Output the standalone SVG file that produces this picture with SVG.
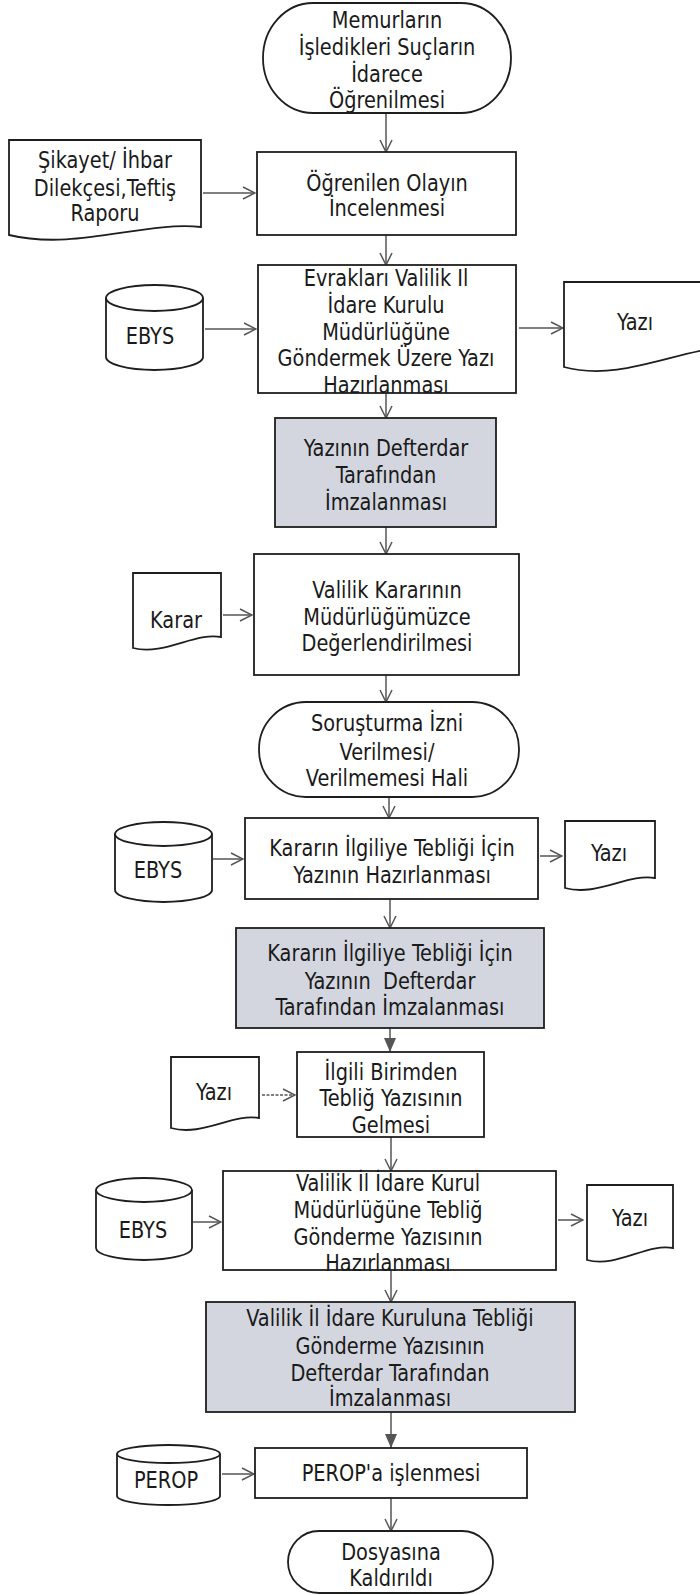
<svg xmlns="http://www.w3.org/2000/svg" width="700" height="1595" viewBox="0 0 700 1595">
<defs>
<style>
.bg{fill:#ffffff}
.box{fill:#ffffff;stroke:#1e1e1e;stroke-width:1.8}
.gray{fill:#d3d6de;stroke:#1e1e1e;stroke-width:1.8}
.t{font-family:"DejaVu Sans Condensed","DejaVu Sans",sans-serif;font-stretch:condensed;font-size:23px;fill:#1a1a1a;text-anchor:middle}
.c{fill:none;stroke:#555555;stroke-width:1.5}
.dot{stroke-dasharray:3 1.5}
</style>
<marker id="open" viewBox="0 0 14 14" refX="13" refY="7" markerWidth="14" markerHeight="14" markerUnits="userSpaceOnUse" orient="auto">
<path d="M1,1 L13,7 L1,13" fill="none" stroke="#555555" stroke-width="1.5"/>
</marker>
<marker id="filled" viewBox="0 0 14 14" refX="14" refY="7" markerWidth="14" markerHeight="14" markerUnits="userSpaceOnUse" orient="auto">
<path d="M0,1 L14,7 L0,13 Z" fill="#555555"/>
</marker>
</defs>
<rect class="bg" x="0" y="0" width="700" height="1595"/>

<g id="connectors">
<line class="c" x1="386" y1="113" x2="386" y2="152" marker-end="url(#open)"/>
<line class="c" x1="203" y1="193" x2="255" y2="193" marker-end="url(#open)"/>
<line class="c" x1="386" y1="235" x2="386" y2="265" marker-end="url(#open)"/>
<line class="c" x1="205" y1="329" x2="256" y2="329" marker-end="url(#open)"/>
<line class="c" x1="519" y1="328" x2="563" y2="328" marker-end="url(#open)"/>
<line class="c" x1="386" y1="393" x2="386" y2="418" marker-end="url(#open)"/>
<line class="c" x1="386" y1="527" x2="386" y2="554" marker-end="url(#open)"/>
<line class="c" x1="223" y1="615" x2="252" y2="615" marker-end="url(#open)"/>
<line class="c" x1="386" y1="675" x2="386" y2="702" marker-end="url(#open)"/>
<line class="c" x1="389" y1="797" x2="389" y2="818" marker-end="url(#open)"/>
<line class="c" x1="213" y1="859" x2="243" y2="859" marker-end="url(#open)"/>
<line class="c" x1="540" y1="856" x2="562" y2="856" marker-end="url(#open)"/>
<line class="c" x1="390" y1="899" x2="390" y2="928" marker-end="url(#open)"/>
<line class="c" x1="390" y1="1028" x2="390" y2="1052" marker-end="url(#filled)"/>
<line class="c dot" x1="262" y1="1095" x2="295" y2="1095" marker-end="url(#open)"/>
<line class="c" x1="391" y1="1137" x2="391" y2="1171" marker-end="url(#open)"/>
<line class="c" x1="193" y1="1222" x2="221" y2="1222" marker-end="url(#open)"/>
<line class="c" x1="558" y1="1220" x2="583" y2="1220" marker-end="url(#open)"/>
<line class="c" x1="391" y1="1270" x2="391" y2="1302" marker-end="url(#open)"/>
<line class="c" x1="391" y1="1412" x2="391" y2="1448" marker-end="url(#filled)"/>
<line class="c" x1="222" y1="1474" x2="254" y2="1474" marker-end="url(#open)"/>
<line class="c" x1="391" y1="1498" x2="391" y2="1531" marker-end="url(#open)"/>
</g>

<g id="n1">
<rect class="box" x="263" y="3" width="248" height="110" rx="50" ry="55"/>
<g transform="translate(387,0) scale(0.935,1)">
<text class="t" x="0" y="28.5">Memurların</text>
<text class="t" x="0" y="55.5">İşledikleri Suçların</text>
<text class="t" x="0" y="82.5">İdarece</text>
<text class="t" x="0" y="108.5">Öğrenilmesi</text>
</g>
</g>

<g id="n2">
<path class="box" d="M9,140 H201 V227 C143,221 76,251 9,235 Z"/>
<g transform="translate(105,0) scale(0.935,1)">
<text class="t" x="0" y="168.5">Şikayet/ İhbar</text>
<text class="t" x="0" y="196.5">Dilekçesi,Teftiş</text>
<text class="t" x="0" y="221.5">Raporu</text>
</g>
</g>

<g id="n3">
<rect class="box" x="257" y="152" width="259" height="83"/>
<g transform="translate(387,0) scale(0.935,1)">
<text class="t" x="0" y="191.5">Öğrenilen Olayın</text>
<text class="t" x="0" y="216.5">İncelenmesi</text>
</g>
</g>

<g id="n4">
<path class="box" d="M106,298 V357 A48.5,13 0 0 0 203,357 V298"/>
<ellipse class="box" cx="154.5" cy="298" rx="48.5" ry="13"/>
<g transform="translate(150,0) scale(0.935,1)">
<text class="t" x="0" y="344.5">EBYS</text>
</g>
</g>

<g id="n5">
<rect class="box" x="258" y="265" width="258" height="128"/>
<g transform="translate(386,0) scale(0.935,1)">
<text class="t" x="0" y="286.5">Evrakları Valilik Il</text>
<text class="t" x="0" y="313.5">İdare Kurulu</text>
<text class="t" x="0" y="340.5">Müdürlüğüne</text>
<text class="t" x="0" y="366.5">Göndermek Üzere Yazı</text>
<text class="t" x="0" y="393.5">Hazırlanması</text>
</g>
</g>

<g id="n6">
<path class="box" d="M564,282 H740 V348 C690,342 626,384 564,367 Z"/>
<g transform="translate(635,0) scale(0.935,1)">
<text class="t" x="0" y="330.5">Yazı</text>
</g>
</g>

<g id="n7">
<rect class="gray" x="275" y="418" width="221" height="109"/>
<g transform="translate(386,0) scale(0.935,1)">
<text class="t" x="0" y="456.5">Yazının Defterdar</text>
<text class="t" x="0" y="483.5">Tarafından</text>
<text class="t" x="0" y="510.5">İmzalanması</text>
</g>
</g>

<g id="n8">
<path class="box" d="M133,573 H221 V637 C195,632 164,656 133,648 Z"/>
<g transform="translate(176,0) scale(0.935,1)">
<text class="t" x="0" y="628.5">Karar</text>
</g>
</g>

<g id="n9">
<rect class="box" x="254" y="554" width="265" height="121"/>
<g transform="translate(387,0) scale(0.935,1)">
<text class="t" x="0" y="598.5">Valilik Kararının</text>
<text class="t" x="0" y="625.5">Müdürlüğümüzce</text>
<text class="t" x="0" y="651.5">Değerlendirilmesi</text>
</g>
</g>

<g id="n10">
<rect class="box" x="259" y="702" width="260" height="95" rx="47" ry="47"/>
<g transform="translate(387,0) scale(0.935,1)">
<text class="t" x="0" y="731.5">Soruşturma İzni</text>
<text class="t" x="0" y="760.5">Verilmesi/</text>
<text class="t" x="0" y="786.5">Verilmemesi Hali</text>
</g>
</g>

<g id="n11">
<path class="box" d="M115,834 V890 A48.5,12 0 0 0 212,890 V834"/>
<ellipse class="box" cx="163.5" cy="834" rx="48.5" ry="12"/>
<g transform="translate(158,0) scale(0.935,1)">
<text class="t" x="0" y="878.5">EBYS</text>
</g>
</g>

<g id="n12">
<rect class="box" x="245" y="818" width="293" height="81"/>
<g transform="translate(392,0) scale(0.935,1)">
<text class="t" x="0" y="856.5">Kararın İlgiliye Tebliği İçin</text>
<text class="t" x="0" y="883.5">Yazının Hazırlanması</text>
</g>
</g>

<g id="n13">
<path class="box" d="M565,821 H655 V878 C628,873 597,897 565,888 Z"/>
<g transform="translate(609,0) scale(0.935,1)">
<text class="t" x="0" y="861.5">Yazı</text>
</g>
</g>

<g id="n14">
<rect class="gray" x="236" y="928" width="308" height="100"/>
<g transform="translate(390,0) scale(0.935,1)">
<text class="t" x="0" y="961.5">Kararın İlgiliye Tebliği İçin</text>
<text class="t" x="0" y="989.5" xml:space="preserve" style="white-space:pre">Yazının  Defterdar</text>
<text class="t" x="0" y="1015.5">Tarafından İmzalanması</text>
</g>
</g>

<g id="n15">
<path class="box" d="M171,1057 H259 V1118 C233,1113 202,1137 171,1128 Z"/>
<g transform="translate(214,0) scale(0.935,1)">
<text class="t" x="0" y="1100.5">Yazı</text>
</g>
</g>

<g id="n16">
<rect class="box" x="297" y="1052" width="187" height="85"/>
<g transform="translate(391,0) scale(0.935,1)">
<text class="t" x="0" y="1080.5">İlgili Birimden</text>
<text class="t" x="0" y="1106.5">Tebliğ Yazısının</text>
<text class="t" x="0" y="1133.5">Gelmesi</text>
</g>
</g>

<g id="n17">
<path class="box" d="M96,1190 V1248 A48,12 0 0 0 192,1248 V1190"/>
<ellipse class="box" cx="144" cy="1190" rx="48" ry="12"/>
<g transform="translate(143,0) scale(0.935,1)">
<text class="t" x="0" y="1238.5">EBYS</text>
</g>
</g>

<g id="n18">
<rect class="box" x="223" y="1171" width="333" height="99"/>
<g transform="translate(388,0) scale(0.935,1)">
<text class="t" x="0" y="1191.5">Valilik İl İdare Kurul</text>
<text class="t" x="0" y="1218.5">Müdürlüğüne Tebliğ</text>
<text class="t" x="0" y="1245.5">Gönderme Yazısının</text>
<text class="t" x="0" y="1271.5">Hazırlanması</text>
</g>
</g>

<g id="n19">
<path class="box" d="M587,1185 H673 V1248 C647,1243 617,1268 587,1260 Z"/>
<g transform="translate(630,0) scale(0.935,1)">
<text class="t" x="0" y="1226.5">Yazı</text>
</g>
</g>

<g id="n20">
<rect class="gray" x="206" y="1302" width="369" height="110"/>
<g transform="translate(390,0) scale(0.935,1)">
<text class="t" x="0" y="1326.5">Valilik İl İdare Kuruluna Tebliği</text>
<text class="t" x="0" y="1354.5">Gönderme Yazısının</text>
<text class="t" x="0" y="1381.5">Defterdar Tarafından</text>
<text class="t" x="0" y="1406.5">İmzalanması</text>
</g>
</g>

<g id="n21">
<path class="box" d="M117,1454 V1496 A51.5,9 0 0 0 220,1496 V1454"/>
<ellipse class="box" cx="168.5" cy="1454" rx="51.5" ry="9"/>
<g transform="translate(166,0) scale(0.935,1)">
<text class="t" x="0" y="1488.5">PEROP</text>
</g>
</g>

<g id="n22">
<rect class="box" x="255" y="1448" width="272" height="50"/>
<g transform="translate(391,0) scale(0.935,1)">
<text class="t" x="0" y="1481.5">PEROP'a işlenmesi</text>
</g>
</g>

<g id="n23">
<rect class="box" x="288" y="1531" width="205" height="62" rx="31" ry="31"/>
<g transform="translate(391,0) scale(0.935,1)">
<text class="t" x="0" y="1560.5">Dosyasına</text>
<text class="t" x="0" y="1586.5">Kaldırıldı</text>
</g>
</g>
</svg>
